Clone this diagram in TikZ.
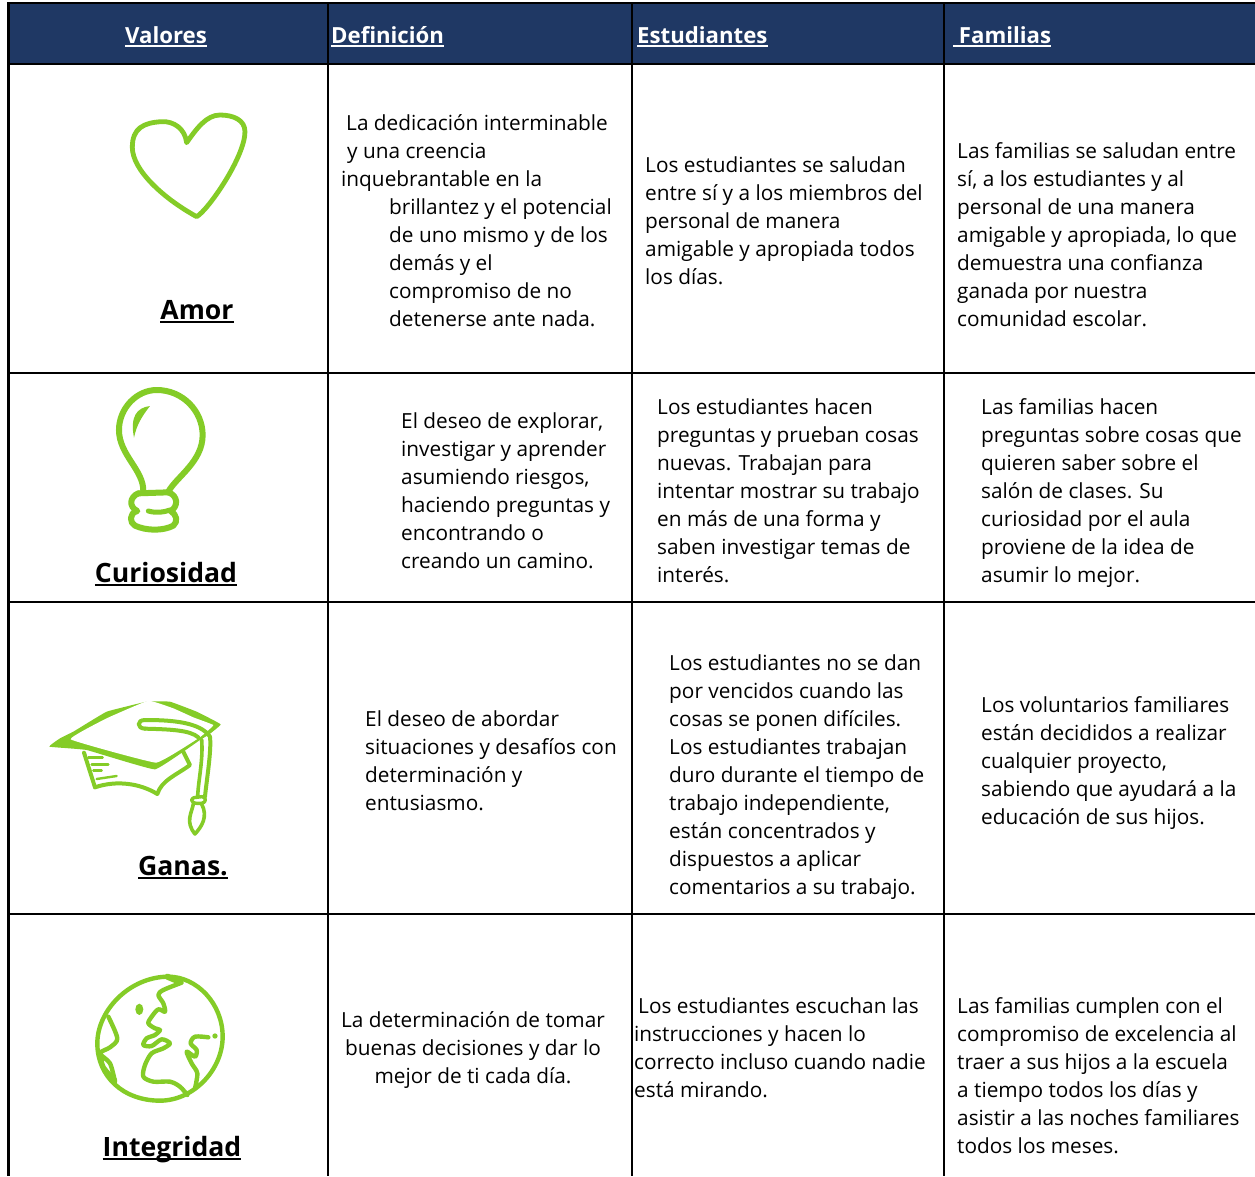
\documentclass[tikz,border=0pt]{standalone}
\usepackage{fontspec}
\setmainfont{Open Sans}
\newsavebox{\ulbox}
\newcommand\uline[1]{\leavevmode\sbox{\ulbox}{#1}\rlap{\usebox{\ulbox}}\rule[-4pt]{\wd\ulbox}{2pt}}
\definecolor{hdr}{HTML}{1F3864}
\definecolor{leaf}{HTML}{84CC27}
\tikzset{
  x=1pt,y=-1pt,
  grid/.style={line width=2.8pt,black},
  cell/.style={font=\fontsize{20.8}{28}\selectfont,align=left,inner sep=0pt,anchor=north west,yshift=-4pt,execute at begin node=\strut},
  cellc/.style={cell,align=center,anchor=north},
  head/.style={font=\fontsize{22.2}{28}\selectfont\bfseries,text=white,inner sep=0pt,anchor=base west},
  val/.style={font=\fontsize{26.6}{32}\selectfont\bfseries,inner sep=0pt,anchor=base},
  ico/.style={draw=leaf,line cap=round,line join=round},
}
\newcommand\ind[1]{\hspace*{#1pt}}
\begin{document}
\begin{tikzpicture}
\useasboundingbox (0,0) rectangle (1255,1176);
\fill[white] (0,0) rectangle (1255,1176);
\fill[hdr] (8,3) rectangle (1255,64);
% grid
\draw[grid] (1255,3) -- (8.5,3) -- (8.5,1176);
\foreach \gx in {328,632,944} \draw[grid] (\gx,3) -- (\gx,1176);
\foreach \gy in {64,373,602,914} \draw[grid] (8,\gy) -- (1255,\gy);
% header
\node[head] (h1) at (125,43) {\uline{Valores}};
\node[head] (h2) at (331,43) {\uline{Definición}};
\node[head] (h3) at (637,43) {\uline{Estudiantes}};
\node[head] (h4) at (953,43) {\uline{ Familias}};
% values
\node[val] (v1) at (197,319) {\uline{Amor}};
\node[val] (v2) at (166,582) {\uline{Curiosidad}};
\node[val] (v3) at (183,875) {\uline{Ganas.}};
\node[val] (v4) at (172,1156) {\uline{Integridad}};
% row 1
\node[cell] (d1) at (341,110.4) {\ind{5}La dedicación interminable\\\ind{6}y una creencia\\inquebrantable en la\\\ind{48}brillantez y el potencial\\\ind{48}de uno mismo y de los\\\ind{48}demás y el\\\ind{48}compromiso de no\\\ind{48}detenerse ante nada.};
\node[cell] (e1) at (645,152.4) {Los estudiantes se saludan\\entre sí y a los miembros del\\personal de manera\\amigable y apropiada todos\\los días.};
\node[cell] (f1) at (957,138.4) {Las familias se saludan entre\\sí, a los estudiantes y al\\personal de una manera\\amigable y apropiada, lo que\\demuestra una confianza\\ganada por nuestra\\comunidad escolar.};
% row 2
\node[cell] (d2) at (401,408.4) {El deseo de explorar,\\investigar y aprender\\asumiendo riesgos,\\haciendo preguntas y\\encontrando o\\creando un camino.};
\node[cell] (e2) at (657,394.4) {Los estudiantes hacen\\preguntas y prueban cosas\\nuevas. Trabajan para\\intentar mostrar su trabajo\\en más de una forma y\\saben investigar temas de\\interés.};
\node[cell] (f2) at (981,394.4) {Las familias hacen\\preguntas sobre cosas que\\quieren saber sobre el\\salón de clases. Su\\curiosidad por el aula\\proviene de la idea de\\asumir lo mejor.};
% row 3
\node[cell] (d3) at (365,706.4) {El deseo de abordar\\situaciones y desafíos con\\determinación y\\entusiasmo.};
\node[cell] (e3) at (669,650.4) {Los estudiantes no se dan\\por vencidos cuando las\\cosas se ponen difíciles.\\Los estudiantes trabajan\\duro durante el tiempo de\\trabajo independiente,\\están concentrados y\\dispuestos a aplicar\\comentarios a su trabajo.};
\node[cell] (f3) at (981,692.4) {Los voluntarios familiares\\están decididos a realizar\\cualquier proyecto,\\sabiendo que ayudará a la\\educación de sus hijos.};
% row 4
\node[cellc] (d4) at (473,1007.4) {La determinación de tomar\\buenas decisiones y dar lo\\mejor de ti cada día.};
\node[cell] (e4) at (634,993.4) {\ind{4}Los estudiantes escuchan las\\instrucciones y hacen lo\\correcto incluso cuando nadie\\está mirando.};
\node[cell] (f4) at (957,993.4) {Las familias cumplen con el\\compromiso de excelencia al\\traer a sus hijos a la escuela\\a tiempo todos los días y\\asistir a las noches familiares\\todos los meses.};
% heart
\begin{scope}[shift={(0,60)},scale=0.3333]
\draw[ico,line width=4.8pt] (560,248) .. controls (555,205) and (520,183) .. (485,185) .. controls (430,188) and (397,205) .. (397,262) .. controls (397,330) and (490,415) .. (590,470) .. controls (625,450) and (735,290) .. (735,215) .. controls (735,180) and (700,165) .. (660,165) .. controls (620,165) and (590,205) .. (560,248) -- cycle;
\end{scope}
% bulb
\begin{scope}[shift={(0,375)},scale=0.3333]
\draw[ico,line width=6pt] (430,350) .. controls (432,285) and (357,240) .. (357,165) .. controls (357,100) and (410,45) .. (470,45) .. controls (550,45) and (608,110) .. (608,180) .. controls (608,260) and (530,305) .. (505,350);
\draw[ico,line width=6pt] (415,355) -- (505,352);
\draw[ico,line width=6pt] (415,355) .. controls (390,365) and (385,395) .. (412,408) .. controls (385,415) and (390,445) .. (405,452) .. controls (440,468) and (490,468) .. (520,452) .. controls (535,440) and (530,418) .. (512,408) .. controls (535,395) and (535,362) .. (505,352);
\draw[ico,line width=5pt] (445,408) .. controls (470,415) and (490,412) .. (510,405);
\fill[leaf] (450,93) .. controls (410,98) and (390,125) .. (402,188) .. controls (410,150) and (425,125) .. (450,93) -- cycle;
\end{scope}
% cap
\begin{scope}[shift={(30,680)},scale=0.3333]
\fill[leaf] plot[smooth cycle,tension=.15] coordinates {(58,200)(90,175)(130,155)(230,95)(350,65)(420,65)(500,95)(572,133)(535,165)(510,180)(375,268)(170,210)};
\fill[white] plot[smooth cycle,tension=.15] coordinates {(122,178)(230,115)(355,62)(430,85)(490,112)(550,135)(530,155)(505,175)(378,248)};
\draw[ico,line width=4pt] (345,146) .. controls (420,148) and (480,150) .. (505,172);
\draw[ico,line width=4pt] (345,146) .. controls (320,145) and (320,120) .. (345,120) .. controls (420,120) and (510,125) .. (540,170) .. controls (545,210) and (530,300) .. (525,350);
\draw[ico,line width=3.6pt] (515,178) .. controls (520,240) and (505,300) .. (503,350);
\draw[ico,line width=3.4pt] (500,352) .. controls (480,352) and (480,368) .. (500,370) -- (515,370) .. controls (530,368) and (530,350) .. (515,350) -- cycle;
\draw[ico,line width=3.6pt] (490,372) .. controls (485,400) and (465,425) .. (495,462) .. controls (515,440) and (535,410) .. (515,372);
\draw[ico,line width=4pt] (162,218) -- (195,322);
\draw[ico,line width=4pt] (195,322) .. controls (260,300) and (330,310) .. (382,342) .. controls (395,300) and (440,285) .. (480,255) -- (460,215);
\draw[ico,line width=2.4pt] (175,232) -- (218,232);
\draw[ico,line width=2.4pt] (185,254) -- (235,254);
\draw[ico,line width=2.4pt] (190,272) -- (215,272);
\draw[ico,line width=2.4pt] (200,297) -- (260,288);
\end{scope}
% globe
\begin{scope}[shift={(80,960)},scale=0.3333]
\draw[ico,line width=4.4pt] (265,50) .. controls (350,50) and (428,130) .. (428,230) .. controls (428,330) and (340,422) .. (240,422) .. controls (130,422) and (52,350) .. (52,250) .. controls (52,150) and (150,50) .. (265,50) -- cycle;
\draw[ico,line width=6pt] (262,50) -- (300,66);
\draw[ico,line width=4.4pt] plot[smooth,tension=.5] coordinates {(305,68)(250,90)(235,105)(250,130)(255,155)(235,148)(215,170)(205,190)(225,205)(240,210)(225,225)(200,235)(190,255)(215,258)(245,238)(270,250)(250,265)(215,280)(195,315)(190,350)(220,365)(270,365)(300,380)(322,405)};
\fill[leaf] (178,148) ellipse [x radius=12,y radius=17];
\fill[leaf] (405,228) circle (8);
\draw[ico,line width=4.4pt] plot[smooth,tension=.5] coordinates {(385,232)(345,230)(332,250)(350,270)(345,290)(320,275)(335,310)(352,340)(345,385)};
\draw[ico,line width=4.4pt] plot[smooth,tension=.5] coordinates {(85,170)(112,235)(90,262)(60,280)(90,310)(105,365)};
\draw[ico,line width=4.4pt] plot[smooth,tension=.5] coordinates {(62,280)(70,320)(105,360)};
\end{scope}
\end{tikzpicture}
\end{document}
